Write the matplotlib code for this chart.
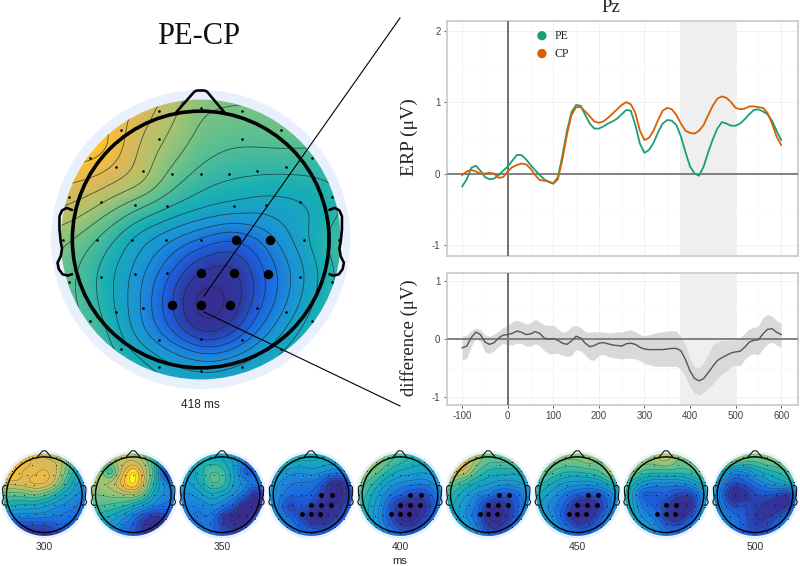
import numpy as np
import matplotlib
matplotlib.use('Agg')
import matplotlib.pyplot as plt
import matplotlib.tri as mtri
from matplotlib.colors import LinearSegmentedColormap
from matplotlib.patches import Circle

W, H = 800, 566

ms = list(range(-100, 601, 10))

pe = [-.18, -.08, .08, .11, .04, -.05, -.08, -.07, -.02, .04,
      .1, .18, .26, .26, .2, .12, .05, -.02, -.08, -.12,
      -.14, -.05, .25, .6, .86, .96, .95, .82, .7, .63,
      .63, .66, .7, .73, .77, .83, .89, .88, .68, .42,
      .29, .33, .43, .58, .7, .75, .74, .68, .52, .3,
      .1, .0, -.03, .1, .3, .48, .63, .72, .7, .67,
      .67, .7, .76, .83, .89, .9, .87, .83, .74, .6, .47]
cp = [-.02, .03, .05, .03, 0, 0, .01, 0, -.06, -.05,
      .03, .09, .12, .14, .13, .07, -.02, -.09, -.1, -.11,
      -.14, -.08, .2, .55, .82, .93, .93, .87, .8, .73,
      .71, .73, .78, .84, .9, .96, 1.0, .97, .85, .6,
      .47, .5, .6, .75, .88, .92, .9, .82, .7, .6,
      .57, .56, .6, .68, .82, .95, 1.05, 1.08, 1.06, 1.0,
      .92, .9, .91, .94, .94, .93, .92, .85, .7, .52, .4]
diff = [-.15, -.12, .03, .12, .08, -.05, -.09, -.06, .02, .07,
        .08, .1, .14, .12, .08, .09, .13, .1, .02, 0,
        .01, -.02, -.07, -.09, -.03, .05, .02, -.07, -.13, -.11,
        -.07, -.06, -.08, -.1, -.11, -.12, -.08, -.07, -.09, -.14,
        -.17, -.18, -.18, -.18, -.18, -.17, -.16, -.16, -.2, -.35,
        -.55, -.68, -.72, -.68, -.58, -.47, -.37, -.32, -.28, -.24,
        -.22, -.21, -.14, -.05, -.02, -.01, .09, .17, .18, .12, .08]
diff_hi = [.05, .07, .15, .19, .17, .07, .05, .09, .14, .2,
           .24, .3, .33, .3, .26, .28, .34, .3, .25, .24,
           .24, .18, .12, .14, .22, .24, .2, .13, .12, .13,
           .13, .12, .11, .11, .13, .12, .15, .16, .13, .08,
           .06, .08, .1, .12, .13, .14, .15, .14, .05, -.1,
           -.35, -.48, -.5, -.4, -.25, -.1, -.05, -.02, -.02, -.02,
           -.01, .03, .1, .18, .2, .23, .37, .43, .4, .32, .27]
diff_lo = [-.36, -.33, -.12, .02, -.05, -.22, -.25, -.2, -.12, -.07,
           -.1, -.1, -.07, -.07, -.12, -.12, -.08, -.12, -.2, -.25,
           -.25, -.24, -.28, -.3, -.28, -.18, -.2, -.28, -.36, -.36,
           -.28, -.26, -.3, -.32, -.33, -.34, -.33, -.33, -.34, -.37,
           -.42, -.44, -.46, -.47, -.47, -.47, -.47, -.47, -.52, -.65,
           -.82, -.93, -.97, -.92, -.85, -.78, -.68, -.6, -.55, -.47,
           -.45, -.46, -.35, -.28, -.25, -.27, -.17, -.08, -.05, -.1, -.14]

window = (378, 502)

# electrode positions, head radius = 1
elec_x = [-.32, 0, .32, -.62, .62, -.32, .32, -.86, .86, -.66, .66, -.445, -.22, 0, .22, .44,
          -1.02, 1.02, -.77, .77, -.51, -.26, .26, .51,
          -1.07, -.8, -.535, -.27, 0, .27, .54, .8, 1.07,
          -1.02, -.77, -.51, -.26, 0, .26, .52, .77, 1.02,
          -.86, -.66, -.445, -.225, 0, .225, .44, .66, .86,
          -.62, -.32, 0, .32, .62, -.32, 0, .32]
elec_y = [1.0, 1.02, 1.0, .85, .85, .78, .78, .63, .63, .56, .56, .53, .51, .51, .51, .53,
          .33, .33, .29, .29, .27, .26, .26, .27,
          0, 0, 0, 0, 0, 0, 0, 0, 0,
          -.33, -.29, -.27, -.26, -.26, -.26, -.27, -.29, -.33,
          -.63, -.56, -.53, -.51, -.51, -.51, -.53, -.56, -.63,
          -.85, -.78, -.77, -.78, -.85, -.99, -1.02, -.99]

sig_x = [.27, .54, 0, .26, .52, -.225, 0, .225]
sig_y = [0, 0, -.26, -.26, -.27, -.51, -.51, -.51]
sig_few_x = [0, .26, -.225, 0, .225]
sig_few_y = [-.26, -.26, -.51, -.51, -.51]

# scalp values, rows from top to bottom of the head
main_field = [
    [.86, .86, .86, .86, .78, .70, .68, .68, .68, .66, .64],
    [.90, .94, .90, .82, .74, .66, .65, .65, .68, .66, .62],
    [.94, .96, .92, .78, .70, .63, .60, .60, .60, .60, .58],
    [.88, .86, .82, .76, .64, .57, .54, .53, .53, .54, .56],
    [.80, .76, .68, .60, .53, .48, .45, .43, .45, .50, .56],
    [.70, .65, .56, .44, .36, .28, .22, .30, .42, .54, .60],
    [.66, .60, .50, .38, .24, .10, .08, .22, .36, .50, .60],
    [.66, .60, .50, .36, .18, .00, .05, .22, .38, .52, .60],
    [.66, .62, .54, .38, .24, .08, .14, .32, .46, .56, .62],
    [.66, .62, .58, .50, .42, .38, .40, .46, .54, .58, .62],
    [.64, .62, .58, .54, .50, .48, .50, .52, .56, .58, .60],
]
field_300 = [
    [.85, .85, .85, .80, .74, .68, .60, .52, .45],
    [.85, .88, .88, .84, .80, .78, .66, .50, .42],
    [.84, .94, .84, .83, .86, .80, .62, .46, .38],
    [.78, .80, .82, .86, .86, .74, .54, .40, .34],
    [.64, .62, .62, .66, .62, .52, .42, .34, .30],
    [.50, .48, .45, .45, .42, .36, .32, .28, .24],
    [.36, .32, .30, .30, .30, .28, .26, .24, .18],
    [.20, .14, .12, .12, .12, .18, .20, .06, .06],
    [.10, .08, .06, .05, .05, .08, .10, .06, .05],
]
field_325 = [
    [.72, .72, .72, .72, .68, .60, .50, .40, .30],
    [.72, .72, .70, .76, .78, .70, .50, .28, .20],
    [.70, .70, .52, .80, 1.0, .76, .52, .08, .18],
    [.70, .72, .74, .88, 1.0, .76, .48, .30, .28],
    [.66, .66, .68, .70, .72, .60, .40, .32, .30],
    [.62, .60, .58, .55, .48, .38, .30, .26, .24],
    [.55, .50, .46, .38, .26, .14, .06, .16, .24],
    [.45, .42, .36, .28, .20, .06, .02, .14, .25],
    [.40, .35, .30, .25, .20, .16, .16, .20, .25],
]
field_350 = [
    [.50, .50, .50, .48, .46, .40, .34, .30, .28],
    [.48, .50, .50, .50, .48, .40, .30, .28, .30],
    [.42, .44, .50, .60, .58, .42, .18, .24, .32],
    [.38, .40, .48, .60, .58, .42, .32, .30, .32],
    [.36, .34, .38, .46, .42, .34, .24, .06, .12],
    [.34, .32, .30, .34, .30, .20, .02, .02, .16],
    [.34, .30, .28, .28, .10, .00, .00, .16, .24],
    [.36, .32, .30, .26, .16, .10, .14, .22, .28],
    [.40, .36, .32, .28, .24, .22, .24, .28, .30],
]
field_375 = [
    [.70, .68, .62, .56, .52, .50, .50, .52, .52],
    [.66, .60, .52, .48, .48, .46, .44, .46, .50],
    [.55, .45, .38, .36, .38, .36, .32, .34, .42],
    [.46, .36, .30, .28, .28, .20, .04, .10, .38],
    [.42, .34, .26, .24, .22, .12, .02, .06, .36],
    [.40, .32, .14, .20, .14, .04, .04, .14, .34],
    [.40, .34, .26, .16, .04, .02, .10, .20, .36],
    [.42, .36, .30, .24, .18, .16, .20, .28, .38],
    [.45, .42, .38, .34, .30, .30, .32, .36, .42],
]
field_400 = [
    [.82, .80, .72, .65, .60, .56, .55, .52, .50],
    [.80, .78, .70, .62, .56, .52, .50, .50, .48],
    [.76, .70, .62, .52, .46, .44, .42, .44, .46],
    [.70, .60, .50, .40, .34, .32, .30, .36, .44],
    [.64, .54, .42, .30, .24, .16, .14, .26, .40],
    [.62, .50, .38, .22, .06, .00, .06, .20, .38],
    [.62, .50, .36, .20, .02, .00, .12, .26, .40],
    [.60, .52, .40, .28, .16, .14, .22, .32, .42],
    [.60, .52, .44, .36, .30, .28, .32, .36, .42],
]
field_425 = [
    [.84, .82, .80, .72, .66, .64, .64, .62, .60],
    [.84, .84, .82, .70, .62, .62, .62, .60, .58],
    [.80, .80, .76, .60, .52, .50, .50, .50, .52],
    [.70, .62, .54, .46, .42, .38, .38, .42, .48],
    [.60, .52, .42, .34, .30, .20, .20, .30, .44],
    [.58, .46, .36, .28, .08, .04, .14, .28, .44],
    [.60, .46, .36, .24, .04, .02, .14, .32, .46],
    [.62, .52, .44, .32, .12, .12, .26, .38, .50],
    [.66, .58, .50, .42, .34, .32, .36, .42, .50],
]
field_450 = [
    [.84, .80, .72, .70, .70, .70, .66, .68, .70],
    [.82, .76, .68, .66, .66, .70, .66, .72, .78],
    [.72, .66, .58, .54, .54, .56, .60, .72, .76],
    [.62, .54, .46, .40, .38, .38, .42, .52, .58],
    [.52, .44, .36, .28, .22, .18, .20, .32, .46],
    [.48, .38, .30, .20, .04, .02, .12, .30, .46],
    [.52, .42, .32, .16, .02, .08, .20, .36, .52],
    [.56, .48, .38, .28, .18, .18, .28, .42, .56],
    [.60, .52, .44, .36, .30, .30, .36, .46, .56],
]
field_475 = [
    [.84, .82, .76, .74, .74, .72, .72, .76, .82],
    [.84, .78, .70, .70, .74, .66, .66, .72, .80],
    [.78, .68, .58, .56, .56, .56, .58, .66, .78],
    [.70, .50, .38, .34, .34, .34, .38, .48, .66],
    [.66, .42, .20, .20, .22, .14, .12, .30, .58],
    [.62, .44, .28, .22, .14, .02, .04, .30, .56],
    [.62, .46, .34, .28, .10, .04, .18, .36, .56],
    [.62, .50, .42, .34, .24, .22, .30, .42, .54],
    [.60, .50, .42, .36, .30, .26, .30, .38, .50],
]
field_500 = [
    [.80, .82, .78, .74, .72, .74, .74, .76, .78],
    [.76, .78, .70, .64, .62, .66, .68, .70, .74],
    [.60, .52, .34, .34, .44, .50, .54, .60, .68],
    [.50, .34, .16, .20, .28, .36, .42, .50, .60],
    [.46, .26, .00, .06, .16, .18, .14, .12, .44],
    [.44, .30, .16, .18, .12, .08, .04, .10, .46],
    [.44, .34, .28, .20, .10, .10, .18, .34, .52],
    [.36, .30, .28, .20, .14, .16, .28, .42, .54],
    [.24, .24, .24, .22, .20, .26, .36, .46, .52],
]

small_fields = [field_300, field_325, field_350, field_375, field_400,
                field_425, field_450, field_475, field_500]
small_sig = [None, None, None, 'all', 'all', 'all', 'all', 'few', None]
small_labels = ['300', '', '350', '', '400', '', '450', '', '500']

plt.rcParams['font.family'] = ['Liberation Sans', 'DejaVu Sans']
plt.rcParams['axes.unicode_minus'] = False
SERIF = 'Liberation Serif'

topo_cmap = LinearSegmentedColormap.from_list('topo', [
    (0.00, '#3a2a8e'), (0.10, '#30389f'), (0.22, '#1c62e0'), (0.36, '#1b92d8'),
    (0.50, '#17aeb6'), (0.62, '#5cc090'), (0.72, '#a8c470'), (0.82, '#dcb85a'),
    (0.92, '#fbc030'), (1.00, '#ffff20')])


def pixel_axes(fig, left, top, width, height, **kw):
    return fig.add_axes([left / W, 1 - (top + height) / H, width / W, height / H], **kw)


def soften(z, sigma):
    # plain gaussian blur, takes the kinks of the coarse grid out of the contours
    half = int(3 * sigma)
    kernel = np.exp(-.5 * (np.arange(-half, half + 1) / sigma) ** 2)
    kernel /= kernel.sum()
    padded = np.pad(z, half, mode='edge')
    padded = np.apply_along_axis(lambda c: np.convolve(c, kernel, mode='same'), 0, padded)
    padded = np.apply_along_axis(lambda c: np.convolve(c, kernel, mode='same'), 1, padded)
    return padded[half:-half, half:-half]


def draw_head(fig, cx, cy, r, field, sig=None, lw=2.6, line_lw=.55, line_alpha=.8, dot=3.5, big=46):
    span = 1.2
    ax = pixel_axes(fig, cx - span * r, cy - span * r, 2 * span * r, 2 * span * r)
    ax.set_xlim(-span, span)
    ax.set_ylim(-span, span)
    ax.axis('off')

    vals = np.array(field)[::-1]
    n = vals.shape[0]
    gx, gy = np.meshgrid(np.linspace(-span, span, n), np.linspace(-span, span, n))
    tri = mtri.Triangulation(gx.ravel(), gy.ravel())
    interp = mtri.CubicTriInterpolator(tri, vals.ravel(), kind='geom')
    fx, fy = np.meshgrid(np.linspace(-1.19, 1.19, 240), np.linspace(-1.19, 1.19, 240))
    fz = soften(np.ma.filled(interp(fx, fy), .5), 8)

    ax.add_patch(Circle((0, 0), 1.16, fc='#e9f0fd', ec='none', zorder=1))
    disc = Circle((0, 0), 1.085, fc='none', ec='none', zorder=2)
    ax.add_patch(disc)
    im = ax.imshow(fz, extent=(-1.19, 1.19, -1.19, 1.19), origin='lower', cmap=topo_cmap,
                   vmin=0, vmax=1, zorder=2, aspect='auto', interpolation='bilinear')
    im.set_clip_path(disc)
    cs = ax.contour(fx, fy, fz, levels=np.arange(.04, 1, .062), colors='#1c2a2a',
                    linewidths=line_lw, alpha=line_alpha, zorder=3)
    cs.set_clip_path(disc)

    ax.scatter(elec_x, elec_y, s=dot, c='black', linewidths=0, zorder=4)
    if sig == 'all':
        ax.scatter(sig_x, sig_y, s=big, c='black', linewidths=0, zorder=6)
    elif sig == 'few':
        ax.scatter(sig_few_x, sig_few_y, s=big, c='black', linewidths=0, zorder=6)

    ax.add_patch(Circle((0, 0), .995, fc='none', ec='black', lw=lw, zorder=5))
    ax.plot([-.186, -.05, -.03, .03, .05, .18], [.99, 1.145, 1.155, 1.155, 1.145, .99], c='black',
            lw=lw * .72, zorder=5, solid_joinstyle='round')
    ear_x = np.array([1.0, 1.04, 1.075, 1.095, 1.095, 1.085, 1.075, 1.085, 1.11, 1.10, 1.07, 1.03, 1.0])
    ear_y = np.array([.23, .245, .225, .18, .08, -.02, -.07, -.13, -.18, -.23, -.27, -.28, -.27])
    ax.plot(ear_x, ear_y, c='black', lw=lw * .72, zorder=5, solid_joinstyle='round')
    ax.plot(-ear_x, ear_y, c='black', lw=lw * .72, zorder=5, solid_joinstyle='round')


def style_panel(ax, ylim, yticks):
    ax.set_xlim(-134, 637)
    ax.set_ylim(*ylim)
    ax.set_yticks(yticks)
    ax.set_xticks(range(-100, 601, 100))
    ax.set_xticks(range(-50, 601, 100), minor=True)
    ax.set_yticks(np.arange(yticks[0] + .5, yticks[-1], 1), minor=True)
    ax.grid(True, which='major', color='#f0f0f0', lw=.7)
    ax.grid(True, which='minor', color='#f7f7f7', lw=.5)
    ax.tick_params(which='minor', length=0)
    ax.tick_params(which='major', labelsize=7, colors='#444444', length=2.5, width=.6, pad=2)
    ax.set_axisbelow(True)
    for side in ax.spines.values():
        side.set_color('#cccccc')
        side.set_linewidth(1.3)
    ax.axvspan(window[0], window[1], color='#efefef', lw=0, zorder=1)
    ax.axvline(0, color='#707070', lw=1.4, zorder=4)
    ax.axhline(0, color='#808080', lw=1.4, zorder=4)


def main():
    fig = plt.figure(figsize=(W / 100, H / 100), dpi=100)

    draw_head(fig, 200.7, 239.5, 129, main_field, sig='all')

    centers = [44.3, 133.3, 222, 311, 400, 488.3, 577.3, 666, 755]
    for cx, field, sig in zip(centers, small_fields, small_sig):
        draw_head(fig, cx, 494.7, 38, field, sig=sig, lw=1.0, line_lw=.3, line_alpha=.6, dot=.35, big=12)

    top = pixel_axes(fig, 446.7, 20.7, 351.3, 235.3)
    style_panel(top, (-1.154, 2.14), [-1, 0, 1, 2])
    top.plot(ms, pe, color='#1b9e77', lw=1.3, zorder=5)
    top.plot(ms, cp, color='#d95f02', lw=1.3, zorder=6)
    top.tick_params(axis='x', which='both', length=0, labelbottom=False)
    top.scatter([75, 75], [1.93, 1.68], c=['#1b9e77', '#d95f02'], s=45, linewidths=0, zorder=6)
    top.text(102, 1.93, 'PE', family=SERIF, fontsize=8.5, va='center', color='#222222')
    top.text(102, 1.68, 'CP', family=SERIF, fontsize=8.5, va='center', color='#222222')

    bottom = pixel_axes(fig, 446.7, 272.7, 351.3, 132)
    style_panel(bottom, (-1.133, 1.149), [-1, 0, 1])
    bottom.fill_between(ms, diff_lo, diff_hi, color='#d9d9d9', lw=0, zorder=3)
    bottom.plot(ms, diff, color='#555555', lw=1.0, zorder=5)

    over = fig.add_axes([0, 0, 1, 1], zorder=10)
    over.set_xlim(0, W)
    over.set_ylim(H, 0)
    over.axis('off')
    over.patch.set_alpha(0)
    over.plot([204, 400], [296, 18], color='black', lw=.8)
    over.plot([204, 400], [312, 406], color='black', lw=.8)

    over.text(199, 36, 'PE-CP', family=SERIF, fontsize=22, ha='center', va='center', color='#111111')
    over.text(611, 7, 'Pz', family=SERIF, fontsize=13.5, ha='center', va='center', color='#222222')
    over.text(409, 137, 'ERP (μV)', family=SERIF, fontsize=14, rotation=90, ha='center', va='center', color='#222222')
    over.text(409, 338, 'difference (μV)', family=SERIF, fontsize=13.5, rotation=90, ha='center', va='center', color='#222222')
    over.text(200, 405, '418 ms', fontsize=8.5, ha='center', va='center', color='#222222')
    for cx, label in zip(centers, small_labels):
        if label:
            over.text(cx, 546.7, label, fontsize=7.5, ha='center', va='center', color='#333333')
    over.text(400, 561, 'ms', fontsize=8, ha='center', va='center', color='#222222')

    fig.savefig('out.png', dpi=100)


if __name__ == '__main__':
    main()
